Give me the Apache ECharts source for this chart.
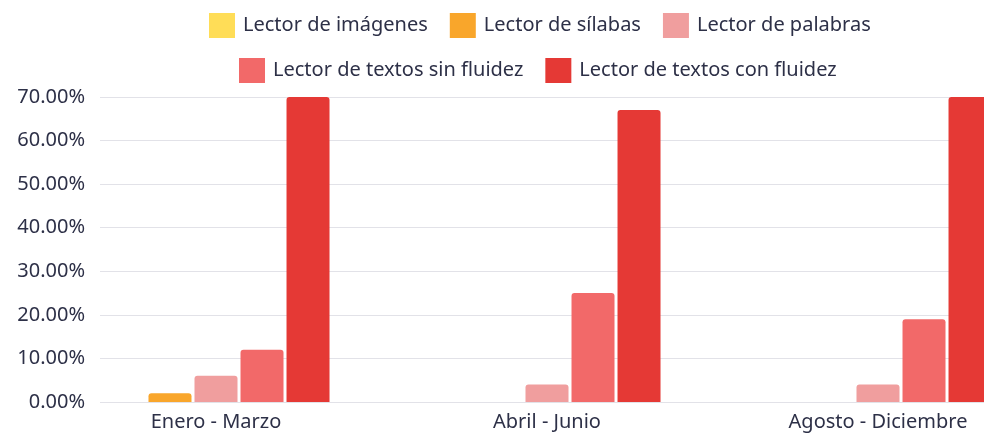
<!DOCTYPE html>
<html>
<head>
<meta charset="utf-8">
<script src="https://cdn.jsdelivr.net/npm/echarts@6/dist/echarts.min.js"></script>
<style>
  html, body { margin: 0; padding: 0; background: #fff; }
  #chart { width: 984px; height: 435px; }
</style>
</head>
<body>
<div id="chart"></div>
<script>
const categories = ['Enero - Marzo', 'Abril - Junio', 'Agosto - Diciembre'];
const seriesNames = [
  'Lector de imágenes',
  'Lector de sílabas',
  'Lector de palabras',
  'Lector de textos sin fluidez',
  'Lector de textos con fluidez'
];
const imagenes = [0, 0, 0];
const silabas = [2, 0, 0];
const palabras = [6, 4, 4];
const sinFluidez = [12, 25, 19];
const conFluidez = [70, 67, 70];
const yTicks = [0, 10, 20, 30, 40, 50, 60, 70];

const COLORS = ['#FFDD57', '#F9A62B', '#F09E9E', '#F26969', '#E53935'];
const TEXT = '#2d3047';
const FONT = '"Noto Sans", sans-serif';

const values = [imagenes, silabas, palabras, sinFluidez, conFluidez];

const chart = echarts.init(document.getElementById('chart'), null, { renderer: 'canvas' });

const legendBase = {
  icon: 'rect',
  itemWidth: 26,
  itemHeight: 25,
  itemGap: 22,
  padding: 0,
  textStyle: { fontSize: 20, color: TEXT, fontFamily: FONT, padding: [0, 0, 0, 3] }
};

chart.setOption({
  animation: false,
  color: COLORS,
  legend: [
    { ...legendBase, data: seriesNames.slice(0, 3), left: 209, top: 13 },
    { ...legendBase, data: seriesNames.slice(3), left: 239, top: 58 }
  ],
  grid: [
    // grid for the value axis and its split lines
    { left: 100, right: 0, top: 97, bottom: 33, outerBoundsMode: 'none', containLabel: false },
    // wider grid for the bars (the chart is cropped on the right)
    { left: 50.5, width: 993, top: 97, bottom: 33, outerBoundsMode: 'none', containLabel: false }
  ],
  xAxis: [
    { type: 'category', gridIndex: 0, data: categories, show: false },
    {
      type: 'category',
      gridIndex: 1,
      data: categories,
      axisLine: { show: false },
      axisTick: { show: false },
      axisLabel: { fontSize: 20, color: TEXT, fontFamily: FONT, margin: 10 }
    }
  ],
  yAxis: [
    {
      type: 'value',
      gridIndex: 0,
      min: yTicks[0],
      max: yTicks[yTicks.length - 1],
      interval: 10,
      axisLine: { show: false },
      axisTick: { show: false },
      splitLine: { lineStyle: { color: '#e2e2e8', width: 1 } },
      axisLabel: {
        fontSize: 20,
        color: TEXT,
        fontFamily: FONT,
        margin: 15,
        formatter: (v) => v.toFixed(2) + '%'
      }
    },
    {
      type: 'value',
      gridIndex: 1,
      min: yTicks[0],
      max: yTicks[yTicks.length - 1],
      interval: 10,
      show: false,
      splitLine: { show: false }
    }
  ],
  series: seriesNames.map((name, i) => ({
    name,
    type: 'bar',
    xAxisIndex: 1,
    yAxisIndex: 1,
    data: values[i],
    barWidth: 43,
    barGap: '7%',
    itemStyle: { color: COLORS[i], borderRadius: [3, 3, 0, 0] }
  }))
});
</script>
</body>
</html>
